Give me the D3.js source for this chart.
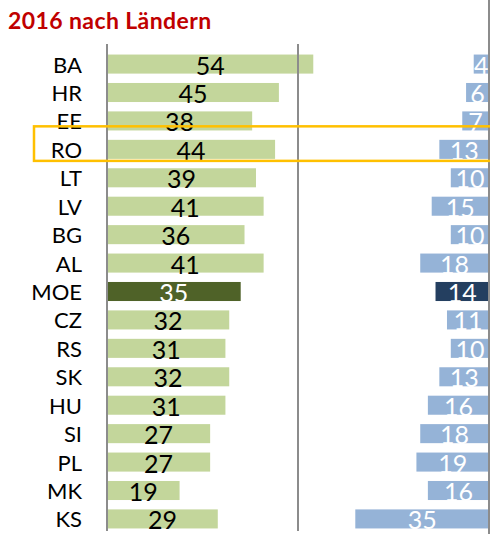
<!DOCTYPE html>
<html>
<head>
<meta charset="utf-8">
<script src="https://cdn.jsdelivr.net/npm/d3@7"></script>
<style>
  body { margin: 0; background: #fff; }
  text { font-family: Lato, 'Open Sans', sans-serif; }
</style>
</head>
<body>
<div id="chart"></div>
<script>
let countries = ['BA', 'HR', 'EE', 'RO', 'LT', 'LV', 'BG', 'AL', 'MOE', 'CZ', 'RS', 'SK', 'HU', 'SI', 'PL', 'MK', 'KS']
let greenValues = [54, 45, 38, 44, 39, 41, 36, 41, 35, 32, 31, 32, 31, 27, 27, 19, 29]
let blueValues = [4, 6, 7, 13, 10, 15, 10, 18, 14, 11, 10, 13, 16, 18, 19, 16, 35]
let highlight = 'MOE'
let boxed = 'RO'

let width = 490
let height = 534

let datapoints = countries.map((c, i) => ({
  country: c,
  green: greenValues[i],
  blue: blueValues[i]
}))

let svg = d3
  .select('#chart')
  .append('svg')
  .attr('width', width)
  .attr('height', height)

let yPositionScale = d3
  .scaleBand()
  .domain(countries)
  .range([50, 533])
  .paddingInner(0.33)
  .paddingOuter(0.16)

let greenScale = d3.scaleLinear().domain([0, 50]).range([107, 298])
let blueScale = d3.scaleLinear().domain([0, 50]).range([489, 298])

// title
svg
  .append('text')
  .attr('x', 8)
  .attr('y', 29)
  .attr('font-size', 23)
  .attr('font-weight', 'bold')
  .attr('letter-spacing', 0.4)
  .attr('fill', '#C00000')
  .text('2016 nach Ländern')

// green bars
svg
  .selectAll('.green-bar')
  .data(datapoints)
  .enter()
  .append('rect')
  .attr('class', 'green-bar')
  .attr('x', greenScale(0) + 1)
  .attr('y', d => yPositionScale(d.country))
  .attr('width', d => greenScale(d.green) - greenScale(0) - 1)
  .attr('height', yPositionScale.bandwidth())
  .attr('fill', d => (d.country === highlight ? '#4F6228' : '#C3D69B'))

// blue bars
svg
  .selectAll('.blue-bar')
  .data(datapoints)
  .enter()
  .append('rect')
  .attr('class', 'blue-bar')
  .attr('x', d => blueScale(d.blue))
  .attr('y', d => yPositionScale(d.country))
  .attr('width', d => blueScale(0) - blueScale(d.blue))
  .attr('height', yPositionScale.bandwidth())
  .attr('fill', d => (d.country === highlight ? '#243F60' : '#95B3D7'))

// green labels
svg
  .selectAll('.green-label')
  .data(datapoints)
  .enter()
  .append('text')
  .attr('class', 'green-label')
  .attr('x', d => (greenScale(0) + greenScale(d.green)) / 2)
  .attr('y', d => yPositionScale(d.country) + yPositionScale.bandwidth() / 2)
  .attr('dy', 10.5)
  .attr('text-anchor', 'middle')
  .attr('font-size', 25)
  .attr('fill', d => (d.country === highlight ? '#fff' : '#000'))
  .text(d => d.green)

// blue labels
svg
  .selectAll('.blue-label')
  .data(datapoints)
  .enter()
  .append('text')
  .attr('class', 'blue-label')
  .attr('x', d => (blueScale(0) + blueScale(d.blue)) / 2)
  .attr('y', d => yPositionScale(d.country) + yPositionScale.bandwidth() / 2)
  .attr('dy', 10.5)
  .attr('text-anchor', 'middle')
  .attr('font-size', 25)
  .attr('fill', '#fff')
  .text(d => d.blue)

// category labels
svg
  .selectAll('.country-label')
  .data(datapoints)
  .enter()
  .append('text')
  .attr('class', 'country-label')
  .attr('x', 82)
  .attr('y', d => yPositionScale(d.country) + yPositionScale.bandwidth() / 2)
  .attr('dy', 8.5)
  .attr('text-anchor', 'end')
  .attr('font-size', 22)
  .attr('fill', '#000')
  .text(d => d.country)

// axis lines
svg
  .append('line')
  .attr('x1', greenScale(0))
  .attr('x2', greenScale(0))
  .attr('y1', 44)
  .attr('y2', 531)
  .attr('stroke', '#8c8c8c')
  .attr('stroke-width', 2)

svg
  .append('line')
  .attr('x1', greenScale(50))
  .attr('x2', greenScale(50))
  .attr('y1', 44)
  .attr('y2', 531)
  .attr('stroke', '#8c8c8c')
  .attr('stroke-width', 2)

svg
  .append('line')
  .attr('x1', blueScale(0))
  .attr('x2', blueScale(0))
  .attr('y1', 0)
  .attr('y2', 534)
  .attr('stroke', '#8c8c8c')
  .attr('stroke-width', 2)

// highlight box
let boxTop = yPositionScale(boxed) - 13.5
svg
  .append('rect')
  .attr('x', 34)
  .attr('y', boxTop)
  .attr('width', 470)
  .attr('height', yPositionScale.bandwidth() + 15.5)
  .attr('fill', 'none')
  .attr('stroke', '#FFC000')
  .attr('stroke-width', 2.5)
</script>
</body>
</html>
